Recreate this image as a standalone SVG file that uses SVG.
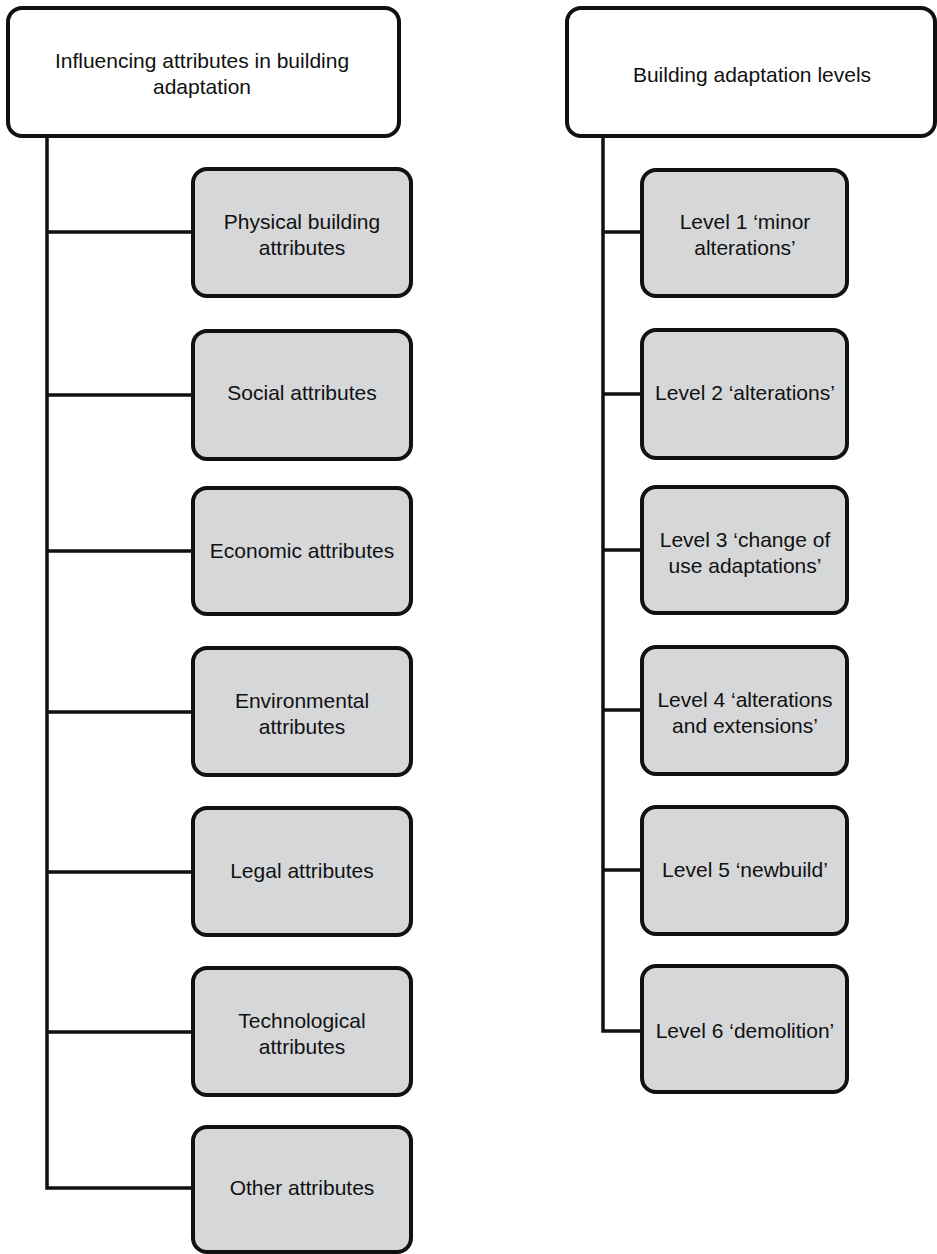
<svg xmlns="http://www.w3.org/2000/svg" width="937" height="1254" viewBox="0 0 937 1254">
  <style>
    .head { fill: #ffffff; stroke: #111111; stroke-width: 4; }
    .item { fill: #d6d7d9; stroke: #111111; stroke-width: 4; }
    .wire { fill: none; stroke: #111111; stroke-width: 3.5; stroke-linejoin: miter; }
    text { font-family: "Liberation Sans", Arial, sans-serif; font-size: 21px; fill: #111111; text-anchor: middle; }
  </style>
  <rect width="937" height="1254" fill="#ffffff"/>

  <!-- connectors -->
  <g id="connectors">
    <path class="wire" d="M47,137 V1188 H192"/>
    <path class="wire" d="M47,232 H192 M47,395 H192 M47,551 H192 M47,712 H192 M47,872 H192 M47,1032 H192"/>
    <path class="wire" d="M603,137 V1031 H642"/>
    <path class="wire" d="M603,232 H642 M603,394 H642 M603,550 H642 M603,710 H642 M603,870 H642"/>
  </g>

  <!-- left column -->
  <g id="influencing-attributes">
    <rect class="head" x="8" y="8" width="391" height="128" rx="14"/>
    <text x="202" y="68">Influencing attributes in building</text>
    <text x="202" y="94">adaptation</text>
  </g>
  <g id="physical">
    <rect class="item" x="193" y="169" width="218" height="127" rx="14"/>
    <text x="302" y="229">Physical building</text>
    <text x="302" y="255">attributes</text>
  </g>
  <g id="social">
    <rect class="item" x="193" y="331" width="218" height="128" rx="14"/>
    <text x="302" y="400">Social attributes</text>
  </g>
  <g id="economic">
    <rect class="item" x="193" y="488" width="218" height="126" rx="14"/>
    <text x="302" y="558">Economic attributes</text>
  </g>
  <g id="environmental">
    <rect class="item" x="193" y="648" width="218" height="127" rx="14"/>
    <text x="302" y="708">Environmental</text>
    <text x="302" y="734">attributes</text>
  </g>
  <g id="legal">
    <rect class="item" x="193" y="808" width="218" height="127" rx="14"/>
    <text x="302" y="878">Legal attributes</text>
  </g>
  <g id="technological">
    <rect class="item" x="193" y="968" width="218" height="127" rx="14"/>
    <text x="302" y="1028">Technological</text>
    <text x="302" y="1054">attributes</text>
  </g>
  <g id="other">
    <rect class="item" x="193" y="1127" width="218" height="125" rx="14"/>
    <text x="302" y="1195">Other attributes</text>
  </g>

  <!-- right column -->
  <g id="adaptation-levels">
    <rect class="head" x="567" y="8" width="368" height="128" rx="14"/>
    <text x="752" y="82">Building adaptation levels</text>
  </g>
  <g id="level-1">
    <rect class="item" x="642" y="170" width="205" height="126" rx="14"/>
    <text x="745" y="229">Level 1 ‘minor</text>
    <text x="745" y="255">alterations’</text>
  </g>
  <g id="level-2">
    <rect class="item" x="642" y="330" width="205" height="128" rx="14"/>
    <text x="745" y="400">Level 2 ‘alterations’</text>
  </g>
  <g id="level-3">
    <rect class="item" x="642" y="487" width="205" height="126" rx="14"/>
    <text x="745" y="547">Level 3 ‘change of</text>
    <text x="745" y="573">use adaptations’</text>
  </g>
  <g id="level-4">
    <rect class="item" x="642" y="647" width="205" height="127" rx="14"/>
    <text x="745" y="707">Level 4 ‘alterations</text>
    <text x="745" y="733">and extensions’</text>
  </g>
  <g id="level-5">
    <rect class="item" x="642" y="807" width="205" height="127" rx="14"/>
    <text x="745" y="877">Level 5 ‘newbuild’</text>
  </g>
  <g id="level-6">
    <rect class="item" x="642" y="966" width="205" height="126" rx="14"/>
    <text x="745" y="1038">Level 6 ‘demolition’</text>
  </g>
</svg>
